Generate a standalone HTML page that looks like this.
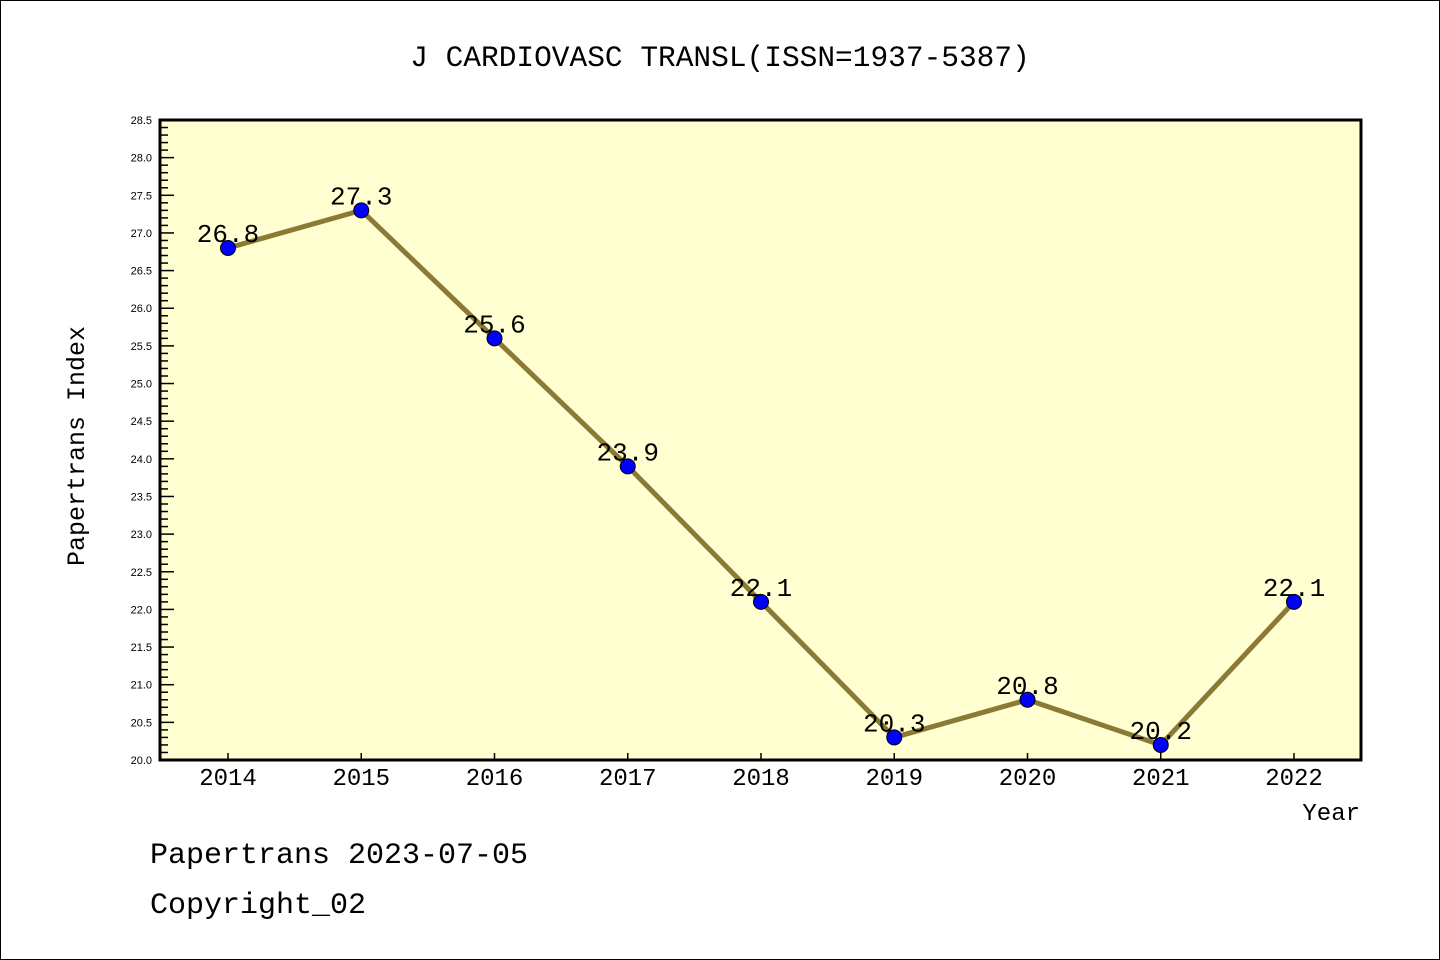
<!DOCTYPE html>
<html><head><meta charset="utf-8"><style>
html,body{margin:0;padding:0;background:#fff}
svg{display:block}
.mono{font-family:"Liberation Mono","DejaVu Sans Mono",monospace}
.sans{font-family:"Liberation Sans","DejaVu Sans",sans-serif}
</style></head><body>
<svg id="chart" width="1440" height="960" viewBox="0 0 1440 960">
<rect x="0.5" y="0.5" width="1439" height="959" fill="#fff" stroke="#000"/>
<text class="mono" x="720" y="66" text-anchor="middle" font-size="29.5">J CARDIOVASC TRANSL(ISSN=1937-5387)</text>
<rect x="160" y="120" width="1201" height="640" fill="#ffffd2"/>
<g id="yticks"></g>
<g id="xticks"></g>
<g id="series"></g>
<rect x="160" y="120" width="1201" height="640" fill="none" stroke="#000" stroke-width="3"/>
<text class="mono" x="84" y="446" text-anchor="middle" font-size="25" transform="rotate(-90 84 446)">Papertrans Index</text>
<text class="mono" x="1360" y="820" text-anchor="end" font-size="24">Year</text>
<text class="mono" x="150" y="863" font-size="30">Papertrans 2023-07-05</text>
<text class="mono" x="150" y="913" font-size="30">Copyright_02</text>
</svg>
<script>
const years = [2014,2015,2016,2017,2018,2019,2020,2021,2022];
const values = [26.8,27.3,25.6,23.9,22.1,20.3,20.8,20.2,22.1];
const valueLabels = ["26.8","27.3","25.6","23.9","22.1","20.3","20.8","20.2","22.1"];
const yTickLabels = ["20.0","20.5","21.0","21.5","22.0","22.5","23.0","23.5","24.0","24.5","25.0","25.5","26.0","26.5","27.0","27.5","28.0","28.5"];
const yMin = 20, yMax = 28.5;
const NS = "http://www.w3.org/2000/svg";
function yScale(v){ return 760 - (v - yMin) / (yMax - yMin) * 640; }
function xScale(i){ return 228 + i * (1294 - 228) / (years.length - 1); }
function mk(tag, attrs, parent){ const e = document.createElementNS(NS, tag); for (const k in attrs) e.setAttribute(k, attrs[k]); parent.appendChild(e); return e; }
const yg = document.getElementById('yticks');
for (let k = 0; k <= Math.round((yMax - yMin) * 10); k++) {
  const v = yMin + k / 10, y = yScale(v), major = k % 5 === 0;
  const t = mk('line', {x1:160, x2: major ? 174 : 168, y1:y, y2:y, stroke:'#000', 'stroke-width':1.5}, yg);
  
  
}
yTickLabels.forEach(s => {
  const y = yScale(parseFloat(s));
  const t = mk('text', {x:152, y:y + 4, 'text-anchor':'end', 'font-size':11, class:'sans'}, yg);
  t.textContent = s;
  
  
});
const xg = document.getElementById('xticks');
years.forEach((yr, i) => {
  const x = xScale(i);
  const t = mk('line', {x1:x, x2:x, y1:760, y2:753, stroke:'#000', 'stroke-width':1.5}, xg);
  
  
  const l = mk('text', {x:x, y:785, 'text-anchor':'middle', 'font-size':24, class:'mono'}, xg);
  l.textContent = yr;
  
  
});
const sg = document.getElementById('series');
const pts = values.map((v, i) => xScale(i) + ',' + yScale(v)).join(' ');
const line = mk('polyline', {points:pts, fill:'none', stroke:'#8b7a35', 'stroke-width':5, 'stroke-linejoin':'round'}, sg);


values.forEach((v, i) => {
  const x = xScale(i), y = yScale(v);
  const c = mk('circle', {cx:x, cy:y, r:7.5, fill:'#0000ff', stroke:'#000', 'stroke-width':1}, sg);
  
  
  const t = mk('text', {x:x, y:y - 6, 'text-anchor':'middle', 'font-size':26, class:'mono'}, sg);
  t.textContent = valueLabels[i];
  
  
});
</script>
</body></html>
